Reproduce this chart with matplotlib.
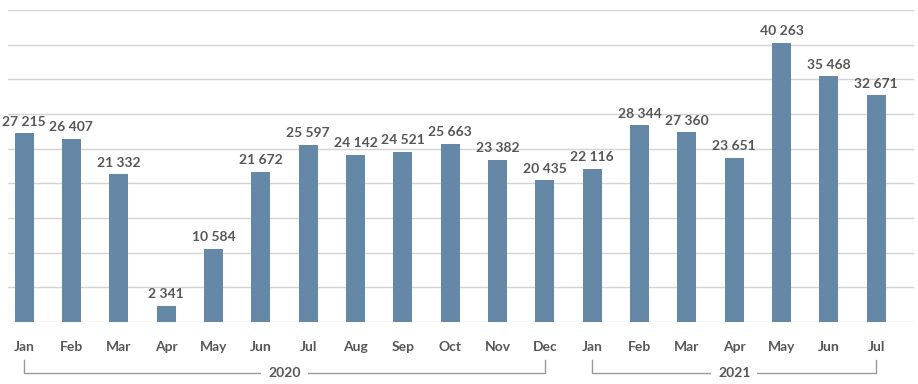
import matplotlib.pyplot as plt
import matplotlib.transforms as mtransforms

months = ["Jan", "Feb", "Mar", "Apr", "May", "Jun", "Jul", "Aug", "Sep", "Oct", "Nov", "Dec",
          "Jan", "Feb", "Mar", "Apr", "May", "Jun", "Jul"]
values = [27215, 26407, 21332, 2341, 10584, 21672, 25597, 24142, 24521, 25663, 23382, 20435,
          22116, 28344, 27360, 23651, 40263, 35468, 32671]
years = ["2020", "2021"]
year_spans = [(0, 11), (12, 18)]

bar_color = "#6488a5"
text_color = "#575757"
grid_color = "#d3d3d3"
plt.rcParams["font.family"] = ["Lato", "DejaVu Sans"]

fig = plt.figure(figsize=(9.18, 3.84), dpi=100)
ax = fig.add_axes([0.0087, 0.1615, 0.987, 0.8125])

x = list(range(len(values)))
ax.bar(x, values, width=0.4, color=bar_color, zorder=3)

for xi, v in zip(x, values):
    ax.annotate(f"{v:,}".replace(",", " "), (xi, v), xytext=(0, 4), textcoords="offset points",
                ha="center", va="bottom", fontsize=10, fontweight="bold", color=text_color)

ax.set_xlim(-0.34, 18.8)
ax.set_ylim(0, 45000)
ax.set_yticks(range(0, 45001, 5000))
ax.yaxis.grid(True, color=grid_color, linewidth=1)
ax.tick_params(axis="y", left=False, labelleft=False)
ax.set_xticks(x)
ax.set_xticklabels(months, fontsize=10, fontweight="bold", color=text_color)
ax.tick_params(axis="x", length=0, pad=13.5)
for s in ax.spines.values():
    s.set_visible(False)

# year brackets under the month labels
trans = mtransforms.blended_transform_factory(ax.transData, ax.transAxes)
y_line = -0.162
y_tick = -0.122
for label, (a, b) in zip(years, year_spans):
    ax.plot([a, a, b, b], [y_tick, y_line, y_line, y_tick], transform=trans,
            color="#999999", linewidth=1, clip_on=False)
    ax.text((a + b) / 2, y_line, label, transform=trans, ha="center", va="center",
            fontsize=10, fontweight="bold", color=text_color,
            bbox=dict(facecolor="white", edgecolor="none", pad=5))

fig.savefig("out.png", dpi=100)
